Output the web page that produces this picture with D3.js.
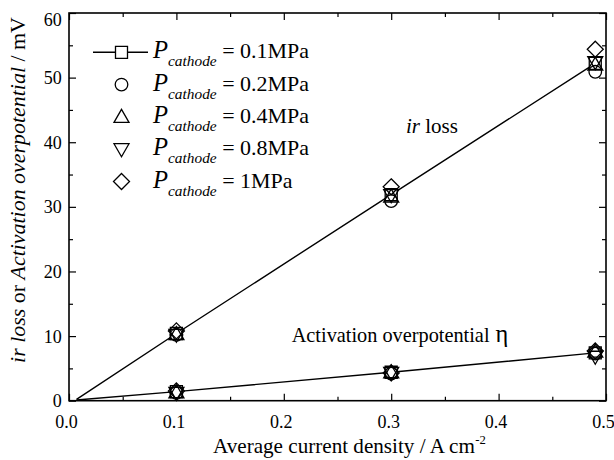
<!DOCTYPE html>
<html><head><meta charset="utf-8">
<script src="https://cdn.jsdelivr.net/npm/d3@7"></script>
<style>
body{margin:0;background:#fff}
svg{display:block}
svg text{font-family:"Liberation Serif","Times New Roman",serif;fill:#000}
</style>
</head><body><svg id="c" width="614" height="460"></svg>
<script>
// ---- data ----
const currentDensity = [0.1, 0.3, 0.49];
const pressures = ["0.1MPa", "0.2MPa", "0.4MPa", "0.8MPa", "1MPa"];
const symbols = ["square", "circle", "triangleUp", "triangleDown", "diamond"];
const irLoss0_1 = [10.4, 31.9, 52.2];
const irLoss0_2 = [10.2, 30.9, 50.9];
const irLoss0_4 = [10.3, 31.6, 52.0];
const irLoss0_8 = [10.2, 31.8, 52.4];
const irLoss1_0 = [10.8, 33.1, 54.4];
const act0_1 = [1.4, 4.4, 7.4];
const act0_2 = [1.2, 4.2, 7.3];
const act0_4 = [1.3, 4.4, 7.6];
const act0_8 = [1.2, 4.3, 6.8];
const act1_0 = [1.5, 4.3, 7.7];
const lineStartX = 0.007, irStart = 0.2, actStart = 0.1;
const xMajor = [0, 0.1, 0.2, 0.3, 0.4, 0.5];
const xMinor = [0.05, 0.15, 0.25, 0.35, 0.45];
const yMajor = [0, 10, 20, 30, 40, 50, 60];
const yMinor = [5, 15, 25, 35, 45, 55];
const irSeries = [irLoss0_1, irLoss0_2, irLoss0_4, irLoss0_8, irLoss1_0];
const actSeries = [act0_1, act0_2, act0_4, act0_8, act1_0];

// ---- layout ----
const L = 69, R = 606, T = 13, B = 400.7;
const svg = d3.select("#c");
const x = d3.scaleLinear().domain([0, 0.5]).range([L, R]);
const y = d3.scaleLinear().domain([0, 60]).range([B, T]);

// scale a text element's font so that its advance equals target width
function fit(sel, target) {
  const w = sel.node().getComputedTextLength();
  const fs = parseFloat(sel.style("font-size"));
  if (w > 0) sel.style("font-size", (fs * target / w) + "px");
}

function markerPath(type) {
  const p = d3.path();
  if (type === "square") { p.rect(-6, -6, 12, 12); }
  else if (type === "circle") { p.arc(0, 0, 6.3, 0, 2 * Math.PI); }
  else if (type === "triangleUp") { p.moveTo(0, -7.5); p.lineTo(7.5, 5.5); p.lineTo(-7.5, 5.5); p.closePath(); }
  else if (type === "triangleDown") { p.moveTo(0, 7.5); p.lineTo(7.5, -5.5); p.lineTo(-7.5, -5.5); p.closePath(); }
  else if (type === "diamond") { p.moveTo(0, -8); p.lineTo(8, 0); p.lineTo(0, 8); p.lineTo(-8, 0); p.closePath(); }
  return p.toString();
}

// axes
function drawAxis(axis, tr, vals, size, labels) {
  const g = svg.append("g").attr("transform", tr).call(axis.tickValues(vals).tickSize(size).tickPadding(0));
  g.attr("font-family", null).attr("font-size", null);
  g.select(".domain").remove();
  g.selectAll(".tick line").attr("stroke", "#000").attr("stroke-width", 1.2);
  if (!labels) g.selectAll(".tick text").remove();
  return g;
}
const gxb = drawAxis(d3.axisBottom(x).tickFormat(d3.format(".1f")), `translate(0,${B})`, xMajor, -7, true);
gxb.selectAll(".tick text").style("font-size", "18px").attr("dy", 0).attr("y", 27.6).attr("x", -3);
drawAxis(d3.axisBottom(x), `translate(0,${B})`, xMinor, -4, false);
drawAxis(d3.axisTop(x), `translate(0,${T})`, xMajor, -7, false);
drawAxis(d3.axisTop(x), `translate(0,${T})`, xMinor, -4, false);
const gyl = drawAxis(d3.axisLeft(y).tickFormat(d3.format("d")), `translate(${L},0)`, yMajor, -7, true);
gyl.selectAll(".tick text").style("font-size", "18px")
  .attr("x", -7.3).attr("dy", "0.34em")
  .attr("y", d => d === 60 ? 6 : 0);
drawAxis(d3.axisLeft(y), `translate(${L},0)`, yMinor, -4, false);
drawAxis(d3.axisRight(y), `translate(${R},0)`, yMajor, -7, false);
drawAxis(d3.axisRight(y), `translate(${R},0)`, yMinor, -4, false);

svg.append("rect").attr("x", L).attr("y", T).attr("width", R - L).attr("height", B - T)
  .attr("fill", "none").attr("stroke", "#000").attr("stroke-width", 1.6);

// lines (through 0.1MPa series)
const line = d3.line().x(d => x(d[0])).y(d => y(d[1]));
const irPts = [[lineStartX, irStart]].concat(currentDensity.map((c, i) => [c, irLoss0_1[i]]));
const actPts = [[lineStartX, actStart]].concat(currentDensity.map((c, i) => [c, act0_1[i]]));
[irPts, actPts].forEach(pts => svg.append("path").attr("d", line(pts))
  .attr("fill", "none").attr("stroke", "#000").attr("stroke-width", 1.4));

// markers
[irSeries, actSeries].forEach(series => {
  series.forEach((vals, si) => {
    svg.append("g").selectAll("path").data(vals).join("path")
      .attr("d", markerPath(symbols[si]))
      .attr("transform", (v, i) => `translate(${x(currentDensity[i])},${y(v)})`)
      .attr("fill", si === 0 ? "#fff" : "none")
      .attr("stroke", "#000").attr("stroke-width", 1.3);
  });
});

// legend
const legY0 = 52.3, legDy = 32.3;
const leg = svg.append("g");
leg.append("line").attr("x1", 93).attr("x2", 148).attr("y1", legY0).attr("y2", legY0)
  .attr("stroke", "#000").attr("stroke-width", 1.4);
let legScale = null;
pressures.forEach((p, i) => {
  const cy = legY0 + i * legDy;
  leg.append("path").attr("d", markerPath(symbols[i]))
    .attr("transform", `translate(121.5,${cy})`)
    .attr("fill", i === 0 ? "#fff" : "none").attr("stroke", "#000").attr("stroke-width", 1.3);
  const t = leg.append("text").attr("x", 153).attr("y", cy + 6).style("font-size", "22px");
  t.append("tspan").attr("font-style", "italic").style("font-size", "1.12em").text("P");
  t.append("tspan").attr("font-style", "italic").style("font-size", "0.7em").attr("dy", 8).text("cathode");
  t.append("tspan").attr("dy", -8).text(" = " + p);
  if (i === 0) { fit(t, 156); legScale = t.style("font-size"); }
  else t.style("font-size", legScale);
});

// annotations
const a1 = svg.append("text").attr("x", 406).attr("y", 133.3).style("font-size", "21px");
a1.append("tspan").attr("font-style", "italic").text("ir");
a1.append("tspan").text(" loss");
fit(a1, 52);
const a2 = svg.append("text").attr("x", 291.7).attr("y", 341.7).style("font-size", "20px");
a2.append("tspan").text("Activation overpotential");
fit(a2, 198);
a2.append("tspan").style("font-size", "1.2em").attr("dx", 6).text("η");

// axis titles
const xt = svg.append("text").attr("x", 213).attr("y", 453).style("font-size", "20px");
xt.append("tspan").text("Average current density / A cm");
fit(xt, 262);
xt.append("tspan").style("font-size", "0.6em").attr("dy", -9.5).attr("dx", 0.5).text("-2");

const yt = svg.append("text").attr("transform", "translate(25,190) rotate(-90)")
  .attr("text-anchor", "middle").style("font-size", "20px");
yt.append("tspan").attr("font-style", "italic").text("ir loss");
yt.append("tspan").text(" or ");
yt.append("tspan").attr("font-style", "italic").text("Activation overpotential");
yt.append("tspan").text(" / mV");
fit(yt, 346);
</script>
</body></html>
